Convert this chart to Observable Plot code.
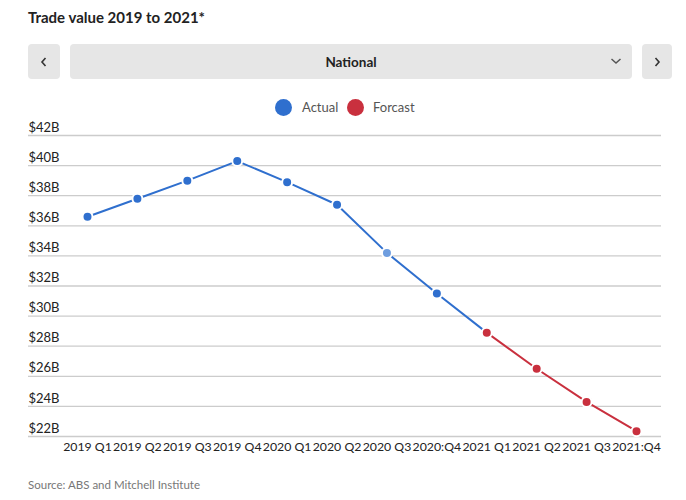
<!DOCTYPE html>
<html>
<head>
<meta charset="utf-8">
<script src="https://cdn.jsdelivr.net/npm/d3@7"></script>
<script src="https://cdn.jsdelivr.net/npm/@observablehq/plot@0.6"></script>
<style>
  html, body { margin: 0; padding: 0; background: #fff; }
  body { width: 686px; height: 500px; position: relative; overflow: hidden; font-family: Lato, sans-serif; }
  .title { position: absolute; left: 28px; top: 8px; font-family: Lato, sans-serif; font-weight: 700; font-size: 15px; color: #222; }
  .btn { position: absolute; top: 44px; height: 35px; background: #e6e6e6; border-radius: 4px; display: flex; align-items: center; justify-content: center; color: #333; }
  .btn svg { display: block; }
  .sel { font-family: Lato, sans-serif; font-weight: 700; font-size: 13.5px; color: #222; }
  .legend { position: absolute; top: 98px; left: 0; width: 686px; height: 20px; font-size: 13px; color: #555; }
  .legend .sw { position: absolute; top: 1px; width: 17px; height: 17px; border-radius: 50%; }
  .legend .lb { position: absolute; top: 0px; line-height: 19px; }
  #chart { position: absolute; left: 0; top: 120px; }
  .source { position: absolute; left: 28px; top: 478px; font-size: 11.5px; color: #777; }
</style>
</head>
<body>
<div class="title">Trade value 2019 to 2021*</div>
<div class="btn" style="left:28px;width:32px;"><svg width="10" height="12" viewBox="0 0 10 12"><path d="M6.5 2 L3 6 L6.5 10" fill="none" stroke="#333" stroke-width="1.6"/></svg></div>
<div class="btn sel" style="left:70px;width:562px;">National</div>
<svg style="position:absolute;left:609px;top:55px;" width="14" height="12" viewBox="0 0 14 12"><path d="M2.5 4 L7 8 L11.5 4" fill="none" stroke="#555" stroke-width="1.5"/></svg>
<div class="btn" style="left:642px;width:30px;"><svg width="10" height="12" viewBox="0 0 10 12"><path d="M3.5 2 L7 6 L3.5 10" fill="none" stroke="#333" stroke-width="1.6"/></svg></div>
<div class="legend">
  <div class="sw" style="left:275px;background:#2f6fce;"></div><div class="lb" style="left:302px;">Actual</div>
  <div class="sw" style="left:347px;background:#c9303e;"></div><div class="lb" style="left:373px;">Forcast</div>
</div>
<div id="chart"></div>
<div class="source">Source: ABS and Mitchell Institute</div>
<script>
const quarters = ["2019 Q1","2019 Q2","2019 Q3","2019 Q4","2020 Q1","2020 Q2","2020 Q3","2020:Q4","2021 Q1","2021 Q2","2021 Q3","2021:Q4"];
const values = [36.6, 37.8, 39.0, 40.3, 38.9, 37.4, 34.2, 31.5, 28.9, 26.5, 24.3, 22.35];
const kinds = ["Actual","Actual","Actual","Actual","Actual","Actual","Actual","Actual","Forcast","Forcast","Forcast","Forcast"];
const highlighted = "2020 Q3";
const yTicks = [22, 24, 26, 28, 30, 32, 34, 36, 38, 40, 42];

const blue = "#2f6fce", red = "#c9303e", lightBlue = "#6e9ddf";
const data = quarters.map((q, i) => ({q, v: values[i], kind: kinds[i]}));
const firstForecast = kinds.indexOf("Forcast");
const actualLine = data.slice(0, firstForecast + 1);
const forecastLine = data.slice(firstForecast);

const chart = Plot.plot({
  width: 686,
  height: 345,
  marginLeft: 28,
  marginRight: 25,
  marginTop: 15,
  marginBottom: 29,
  style: {fontFamily: "Lato, sans-serif", fontSize: "12px", color: "#222", background: "transparent"},
  x: {type: "point", domain: quarters, range: [87, 636], padding: 0, round: false, label: null},
  y: {domain: [22, 42], label: null},
  marks: [
    Plot.ruleY(yTicks, {stroke: "#cccccc", strokeWidth: 1.3}),
    Plot.axisY({ticks: yTicks, tickSize: 0, tickPadding: 0, textAnchor: "start", dy: -8, tickFormat: d => `$${d}B`, fill: "#222", fontSize: 13}),
    Plot.axisX({tickSize: 0, tickPadding: 6, fill: "#222", fontSize: 12.3}),
    Plot.line(actualLine, {x: "q", y: "v", stroke: blue, strokeWidth: 2}),
    Plot.line(forecastLine, {x: "q", y: "v", stroke: red, strokeWidth: 2}),
    Plot.dot(data, {x: "q", y: "v", r: 5, fill: d => d.q === highlighted ? lightBlue : (d.kind === "Actual" ? blue : red), stroke: "#fff", strokeWidth: 2})
  ]
});
document.getElementById("chart").appendChild(chart);
</script>
</body>
</html>
